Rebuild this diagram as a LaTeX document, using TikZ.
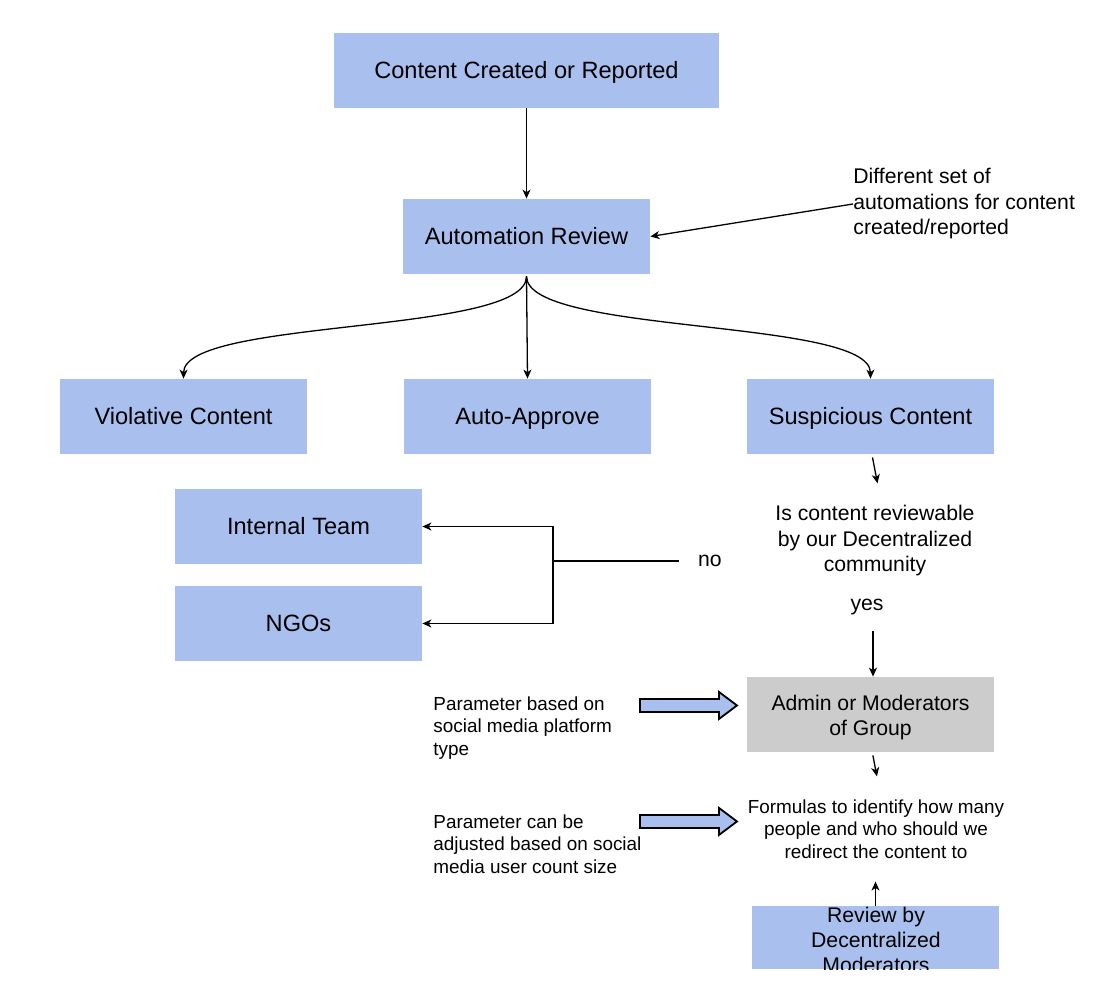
\documentclass[tikz,border=0pt]{standalone}
\usepackage{fontspec}
\setmainfont{Liberation Sans}
\usetikzlibrary{arrows.meta,calc}
\definecolor{boxblue}{HTML}{A9C0EE}
\definecolor{boxgray}{HTML}{CCCCCC}
\begin{document}
\begin{tikzpicture}[x=0.5pt,y=-0.5pt,
 box/.style={rectangle, fill=boxblue, minimum width=123.5pt, minimum height=37.5pt, inner sep=0pt, font=\fontsize{11.8}{12.6}\selectfont, text height=10.5pt, text depth=2pt},
 emptybox/.style={rectangle, fill=boxblue, minimum width=123.5pt, minimum height=37.5pt, inner sep=0pt},
 boxtext/.style={inner sep=0pt, align=center, font=\fontsize{10.6}{12.5}\selectfont},
 conn/.style={line width=0.65pt, -{Stealth[length=4.5pt,width=4pt,inset=1.3pt]}},
 plain/.style={line width=0.65pt},
 lbl/.style={inner sep=0pt, font=\fontsize{10.6}{12.75}\selectfont},
 small/.style={inner sep=0pt, font=\fontsize{9.45}{11.3}\selectfont},
 blockarrow/.style={draw=black, line width=0.9pt, fill=boxblue}]

\useasboundingbox (0,0) rectangle (1100,994);

% boxes
\node[box, minimum width=192.5pt] (created) at (526.5,70.5) {Content Created or Reported};
\node[box] (auto) at (526.5,236.5) {Automation Review};
\node[box] (viol) at (183.5,416.5) {Violative Content};
\node[box] (approve) at (527.5,416.5) {Auto-Approve};
\node[box] (susp) at (870.5,416.5) {Suspicious Content};
\node[box] (internal) at (298.5,526.5) {Internal Team};
\node[box] (ngo) at (298.5,623.5) {NGOs};
\node[emptybox, fill=boxgray] (admin) at (870.5,714.5) {};
\node[boxtext] (admintext) at (870.5,718) {Admin or Moderators\\of Group};
\node[emptybox, minimum height=31.5pt] (review) at (875.5,937.5) {};
\begin{scope}
  \clip (review.south west) rectangle (review.north east);
  \node[boxtext] (reviewtext) at (876,940) {Review by\\Decentralized\\Moderators};
\end{scope}

% texts
\node[lbl, anchor=west, align=left] (diff) at (853,204) {Different set of\\automations for content\\created/reported};
\node[lbl, align=center] (question) at (875,541) {Is content reviewable\\by our Decentralized\\community};
\node[lbl] (yes) at (867,607) {yes};
\node[lbl] (no) at (710,561) {no};
\node[small, anchor=west, align=left] (param1) at (433,728) {Parameter based on\\social media platform\\type};
\node[small, anchor=west, align=left] (param2) at (433,844) {Parameter can be\\adjusted based on social\\media user count size};
\node[small, align=center] (formulas) at (876,829) {Formulas to identify how many\\people and who should we\\redirect the content to};

% connectors
\draw[conn] (created.south) -- (auto.north);
\draw[conn] (diff.west |- 0,204) -- (auto.east);
\draw[conn] ([yshift=-1pt]auto.south) .. controls (527,335) and (184,318) .. (viol.north);
\draw[conn] ([yshift=-1pt]auto.south) -- (approve.north);
\draw[conn] ([yshift=-1pt]auto.south) .. controls (527,335) and (870,318) .. (susp.north);
\draw[conn] ([xshift=1pt,yshift=-1.5pt]susp.south) -- ([xshift=3.5pt,yshift=-14.5pt]susp.south);
\coordinate (nostart) at ([xshift=-9.5pt]no.west);
\coordinate (split) at (553,561);
\draw[plain] (nostart) -- (split);
\draw[conn] (split) |- (internal.east);
\draw[conn] (split) |- (ngo.east);
\draw[conn] (873,631) -- (admin.north -| 873,0);
\draw[conn] ([xshift=1.2pt,yshift=-1.5pt]admin.south) -- ([xshift=3.2pt,yshift=-12pt]admin.south);
\draw[conn] (review.north) -- ([yshift=12pt]review.north);

% block arrows
\path[blockarrow] (640,699) -- (719,699) -- (719,692) -- (737,705.5) -- (719,719) -- (719,712) -- (640,712) -- cycle;
\path[blockarrow] (640,815) -- (719,815) -- (719,808) -- (737,821.5) -- (719,835) -- (719,828) -- (640,828) -- cycle;

\end{tikzpicture}
\end{document}
